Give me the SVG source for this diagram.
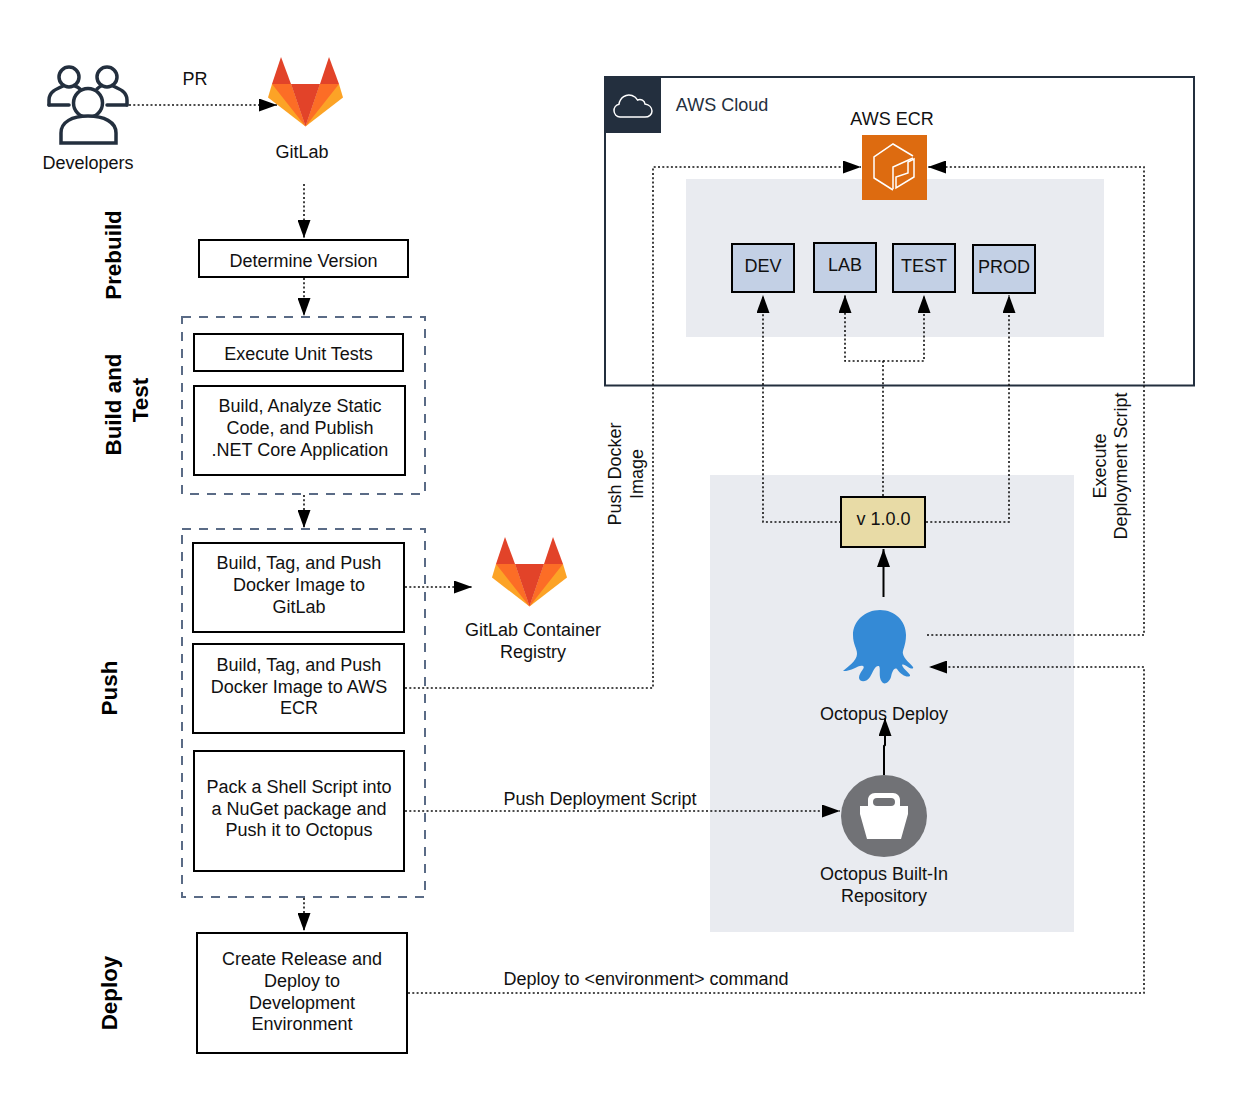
<svg xmlns="http://www.w3.org/2000/svg" xmlns:xlink="http://www.w3.org/1999/xlink" width="1236" height="1098" viewBox="0 0 1236 1098">
<style>
text{font-family:"Liberation Sans",Arial,sans-serif;font-size:18px;fill:#111;text-anchor:middle}
.box{fill:#fff;stroke:#000;stroke-width:2}
.env{fill:#c3d0e5;stroke:#000;stroke-width:2}
.dash{fill:none;stroke:#5a6b86;stroke-width:2;stroke-dasharray:9 8}
.lane{font-weight:bold;font-size:22.400px;fill:#000}
.panel{fill:#e9ebf0}
.dot{fill:none;stroke:#111;stroke-width:1.600;stroke-dasharray:2 2.300}
.solid{fill:none;stroke:#000;stroke-width:2}
</style>
<defs>
<marker id="a" markerUnits="userSpaceOnUse" markerWidth="20" markerHeight="13" refX="18" refY="6.500" orient="auto"><path d="M0 0L18 6.500L0 13Z" fill="#000"/></marker>
<symbol id="gl" viewBox="0 0 75 70" overflow="visible">
<path d="M37.500 69.500L0 40.500L4 27H23Z" fill="#fca326"/><path d="M37.500 69.500L75 40.500L71 27H52Z" fill="#fca326"/>
<path d="M37.500 69.500L4 27H23Z" fill="#fc6d26"/><path d="M37.500 69.500L71 27H52Z" fill="#fc6d26"/>
<path d="M37.500 69.500L23 27H52Z" fill="#e24329"/>
<path d="M13 0L4 27H23Z" fill="#e24329"/><path d="M61 0L52 27H71Z" fill="#e24329"/>
</symbol>
</defs>

<g id="aws-cloud">
<rect x="605" y="77" width="589" height="308.500" fill="#fff" stroke="#232f3e" stroke-width="2"/>
<rect x="605" y="77" width="56" height="56" fill="#232f3e"/>
<path d="M620 117a6.500 6.500 0 0 1-1-12.800c1-6.500 7-10.700 13-8.700 2.500.8 4.500 2.500 5.500 4.500 3.500-1.500 7 .5 7.500 4 4 .7 7 3.500 7 7 0 3.500-3 6-7 6Z" fill="none" stroke="#fff" stroke-width="1.500"/>
<text x="722" y="111" style="fill:#232f3e">AWS Cloud</text>
</g>
<rect id="env-panel" class="panel" x="686" y="179" width="418" height="158"/>
<rect id="octopus-panel" class="panel" x="710" y="475" width="364" height="457"/>

<g id="connectors">
<path class="dot" d="M129 105H277" marker-end="url(#a)"/>
<path class="dot" d="M304 184V238" marker-end="url(#a)"/>
<path class="dot" d="M304 278V316" marker-end="url(#a)"/>
<path class="dot" d="M304 495V528" marker-end="url(#a)"/>
<path class="dot" d="M405 587H472" marker-end="url(#a)"/>
<path class="dot" d="M405 688H653V167H861" marker-end="url(#a)"/>
<path class="dot" d="M405 811H840" marker-end="url(#a)"/>
<path class="dot" d="M304 898V931" marker-end="url(#a)"/>
<path class="dot" d="M408 993H1144V667H929" marker-end="url(#a)"/>
<path class="dot" d="M927 635H1144V167H928" marker-end="url(#a)"/>
<path class="dot" d="M841 522H763V295" marker-end="url(#a)"/>
<path class="dot" d="M926 522H1009V295" marker-end="url(#a)"/>
<path class="dot" d="M883 496V361H845V295" marker-end="url(#a)"/>
<path class="dot" d="M883 361H924V295" marker-end="url(#a)"/>
<path class="solid" d="M883.500 597V549" marker-end="url(#a)"/>
<path class="solid" d="M884 775V746L885 745V718" marker-end="url(#a)"/>
</g>

<g id="developers" fill="#fff" stroke="#232f3e" stroke-width="3.500" stroke-linecap="round">
<circle cx="69" cy="77" r="10"/><circle cx="107" cy="77" r="10"/>
<path d="M49 105V100C49 92 56 89 63 86M75 86C78 87 79 88 80 89" fill="none"/>
<path d="M127 105V100C127 92 120 89 113 86M101 86C99 87 98 88 97 89" fill="none"/>
<path d="M49 105H69M107 105H127" fill="none"/>
<circle cx="88" cy="103" r="14.500"/>
<path d="M61 143V133C61 122 72 116 88 116C104 116 116 122 116 133V143Z"/>
<text x="88" y="169" stroke="none" style="fill:#111">Developers</text>
</g>
<text id="pr-label" x="195" y="85">PR</text>

<g id="gitlab"><use xlink:href="#gl" href="#gl" x="268" y="57" width="75" height="70"/><text x="302" y="158">GitLab</text></g>
<g id="gitlab-registry"><use xlink:href="#gl" href="#gl" x="492" y="537" width="75" height="70"/><text x="533" y="636">GitLab Container</text><text x="533" y="658">Registry</text></g>

<text class="lane" transform="translate(121 255) rotate(-90)">Prebuild</text>
<text class="lane" transform="translate(121 404.500) rotate(-90)">Build and</text>
<text class="lane" transform="translate(148 400) rotate(-90)">Test</text>
<text class="lane" transform="translate(117 688) rotate(-90)">Push</text>
<text class="lane" transform="translate(117 993) rotate(-90)">Deploy</text>

<g id="determine"><rect class="box" x="199" y="240" width="209" height="37"/><text x="303.500" y="266.500">Determine Version</text></g>
<rect id="group-build" class="dash" x="182" y="317" width="243" height="177"/>
<g id="unit-tests"><rect class="box" x="194" y="334" width="209" height="37"/><text x="298.500" y="360">Execute Unit Tests</text></g>
<g id="build-analyze"><rect class="box" x="194" y="386" width="211" height="89"/><text x="300" y="412">Build, Analyze Static</text><text x="300" y="434">Code, and Publish</text><text x="300" y="456">.NET Core Application</text></g>
<rect id="group-push" class="dash" x="182" y="529" width="243" height="368"/>
<g id="push-gitlab"><rect class="box" x="193" y="543" width="211" height="89"/><text x="299" y="569">Build, Tag, and Push</text><text x="299" y="591">Docker Image to</text><text x="299" y="612.500">GitLab</text></g>
<g id="push-ecr"><rect class="box" x="193" y="644" width="211" height="89"/><text x="299" y="671">Build, Tag, and Push</text><text x="299" y="692.500">Docker Image to AWS</text><text x="299" y="714">ECR</text></g>
<g id="pack"><rect class="box" x="194" y="751" width="210" height="120"/><text x="299" y="793">Pack a Shell Script into</text><text x="299" y="814.500">a NuGet package and</text><text x="299" y="836">Push it to Octopus</text></g>
<g id="release"><rect class="box" x="197" y="933" width="210" height="120"/><text x="302" y="965">Create Release and</text><text x="302" y="987">Deploy to</text><text x="302" y="1008.500">Development</text><text x="302" y="1030">Environment</text></g>

<g id="ecr">
<text x="892" y="125">AWS ECR</text>
<rect x="862" y="135" width="65" height="65" fill="#dd6b10"/>
<path d="M913 156L893 144L874 157V178L893 190" fill="none" stroke="#fff" stroke-width="1.500"/>
<path d="M913 158L893 167V189" fill="none" stroke="#fff" stroke-width="1.500"/>
<path d="M896 188V177L908 173V162L914 159V177Z" fill="none" stroke="#fff" stroke-width="1.500"/>
</g>
<g id="dev"><rect class="env" x="732" y="244" width="62" height="48"/><text x="763" y="272">DEV</text></g>
<g id="lab"><rect class="env" x="814" y="243" width="62" height="49"/><text x="845" y="271">LAB</text></g>
<g id="test"><rect class="env" x="893" y="244" width="62" height="48"/><text x="924" y="272">TEST</text></g>
<g id="prod"><rect class="env" x="973" y="245" width="62" height="48"/><text x="1004" y="273">PROD</text></g>
<g id="version"><rect x="841" y="497" width="84" height="50" fill="#e8dba6" stroke="#000" stroke-width="2"/><text x="883.500" y="525">v 1.0.0</text></g>

<g id="octopus">
<path d="M880 610C895 610 906 621 906 635C906 646 902 650 903 654C904 659 910 663 913 667C914 669 911 669 908 667C905 665 903 664 902 665C903 669 911 674 910 676C907 678 901 675 897 669C894 667 892 672 891 677C889 683 884 685 882 682C878 677 881 669 879 666C875 665 873 672 870 677C867 682 860 683 859 678C859 672 866 668 863 666C859 664 853 671 843 671C847 667 857 661 857 654C857 648 853 645 853 635C853 621 865 610 880 610Z" fill="#348ad6"/>
<text x="884" y="720">Octopus Deploy</text>
</g>
<g id="builtin">
<ellipse cx="884" cy="816" rx="43" ry="41" fill="#717276"/>
<path d="M860 806H868V800C868 796 871 793 875 793H893C897 793 900 796 900 800V806H908V814L901 839H867L860 814Z" fill="#fff"/>
<rect x="873" y="798" width="22" height="8" rx="4" fill="#717276"/>
<text x="884" y="880">Octopus Built-In</text><text x="884" y="902">Repository</text>
</g>

<text x="600" y="804.500">Push Deployment Script</text>
<text x="646" y="984.500">Deploy to &lt;environment&gt; command</text>
<text transform="translate(621 474) rotate(-90)">Push Docker</text>
<text transform="translate(643 474) rotate(-90)">Image</text>
<text transform="translate(1106 466) rotate(-90)">Execute</text>
<text transform="translate(1127 466) rotate(-90)">Deployment Script</text>
</svg>
